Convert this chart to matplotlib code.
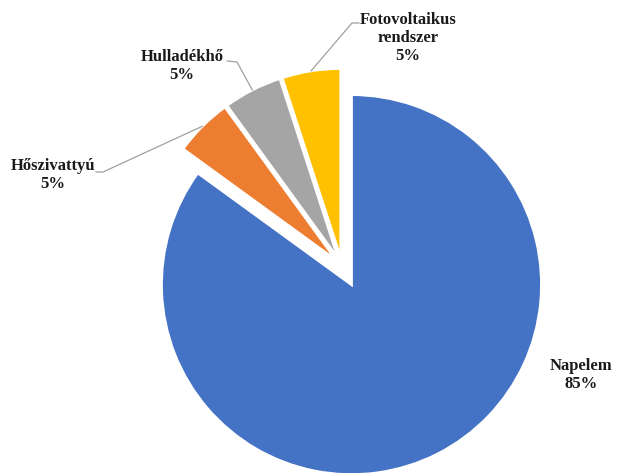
import numpy as np
import matplotlib.pyplot as plt

labels = ["Napelem", "Hőszivattyú", "Hulladékhő", "Fotovoltaikus\nrendszer"]
shares = [85, 5, 5, 5]

colors = ["#4472C4", "#ED7D31", "#A5A5A5", "#FFC000"]
explode = [0.11, 0.04, 0.04, 0.04]

W, H = 620, 473
CX, CY, R = 342, 266, 190  # pie centre / radius in pixels (y downwards)

# label centres and leader elbows in pixels
label_pos = [(581, 375), (53, 175), (182, 66), (408, 38)]
elbows = [None, (103, 172), (237, 62), (352, 23)]
line_ends = [None, (96, 172), (227, 61), (359, 23)]


def px(x, y):
    return (x - CX) / R, (CY - y) / R


def plot_pie():
    fig = plt.figure(figsize=(W / 100, H / 100), dpi=100)
    ax = fig.add_axes([0, 0, 1, 1])

    wedges, _ = ax.pie(
        shares,
        colors=colors,
        explode=explode,
        startangle=90,
        counterclock=False,
        radius=1,
        wedgeprops={"edgecolor": "white", "linewidth": 2},
    )
    ax.set_xlim(-CX / R, (W - CX) / R)
    ax.set_ylim(-(H - CY) / R, CY / R)
    ax.set_aspect("equal")
    ax.axis("off")

    font = {"family": "Liberation Serif", "weight": "bold", "size": 12, "color": "#1a1a1a"}
    for i, w in enumerate(wedges):
        text = f"{labels[i]}\n{shares[i]}%"
        tx, ty = px(*label_pos[i])
        ax.text(tx, ty, text, ha="center", va="center", multialignment="center",
                linespacing=1.2, **font)
        if elbows[i] is None:
            continue
        mid = np.deg2rad((w.theta1 + w.theta2) / 2)
        sx = w.center[0] + w.r * np.cos(mid)
        sy = w.center[1] + w.r * np.sin(mid)
        ex, ey = px(*elbows[i])
        lx, ly = px(*line_ends[i])
        ax.plot([sx, ex, lx], [sy, ey, ly], color="#a0a0a0", lw=0.9)

    fig.savefig("out.png", dpi=100)


if __name__ == "__main__":
    plot_pie()
